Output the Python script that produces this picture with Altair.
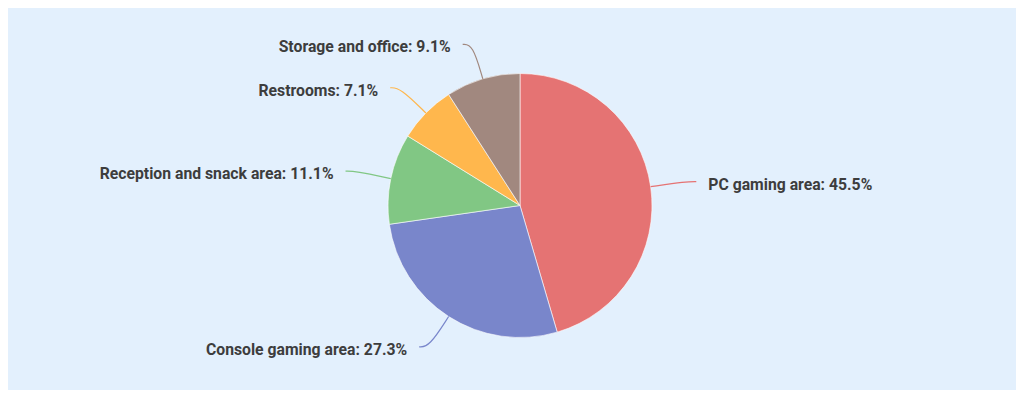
import altair as alt
import pandas as pd

categories = ["PC gaming area", "Console gaming area", "Reception and snack area", "Restrooms", "Storage and office"]
values = [45.5, 27.3, 11.1, 7.1, 9.1]
colors = ["#E57373", "#7986CB", "#81C784", "#FFB74D", "#A1887F"]

df = pd.DataFrame({"category": categories, "value": values, "idx": list(range(len(categories)))})

W, H = 1008, 382
CX, CY, R, R2 = 512, 197.5, 132, 168

color = alt.Color("category:N", scale=alt.Scale(domain=categories, range=colors), legend=None)
xs = alt.X("px:Q", scale=alt.Scale(domain=[0, W], nice=False, zero=False), axis=None)
ys = alt.Y("py:Q", scale=alt.Scale(domain=[0, H], nice=False, zero=False, reverse=True), axis=None)

base = alt.Chart(df)

pie = base.mark_arc(radius=R, stroke="#ffffff", strokeWidth=0.6).encode(
    theta=alt.Theta("value:Q", stack=True),
    order=alt.Order("idx:Q"),
    color=color,
    x=alt.value(CX),
    y=alt.value(CY),
)

geo = base.transform_joinaggregate(total="sum(value)").transform_window(
    cum="sum(value)", sort=[alt.SortField("idx")]
).transform_calculate(
    mid="2*PI*(datum.cum - datum.value/2)/datum.total",
).transform_calculate(
    s="sin(datum.mid)", c="cos(datum.mid)"
)

lines = geo.transform_calculate(pts="[0,1,2]").transform_flatten(["pts"]).transform_calculate(
    rr=f"datum.pts==0 ? {R} : {R2}",
).transform_calculate(
    px=f"{CX} + datum.rr*datum.s + (datum.pts==2 ? (datum.s>0 ? 10 : -10) : 0)",
    py=f"{CY} - datum.rr*datum.c",
).mark_line(interpolate="basis", strokeWidth=1.2).encode(
    x=xs, y=ys, color=color, detail="category:N", order="pts:Q"
)

labels = geo.transform_calculate(
    px=f"{CX} + {R2}*datum.s + (datum.s>0 ? 22 : -22)",
    py=f"{CY} - {R2}*datum.c",
    label="datum.category + ': ' + format(datum.value, '.1f') + '%'",
)

txt_style = dict(font="Roboto", fontSize=15.75, fontWeight="bold", color="#3d3d3d", baseline="middle", dy=3)
right_labels = labels.transform_filter("datum.s > 0").mark_text(align="left", **txt_style).encode(
    x=xs, y=ys, text="label:N"
)
left_labels = labels.transform_filter("datum.s <= 0").mark_text(align="right", **txt_style).encode(
    x=xs, y=ys, text="label:N"
)

chart = alt.layer(pie, lines, right_labels, left_labels).properties(
    width=W, height=H, padding=0, autosize=alt.AutoSizeParams(type="none"),
    background="#E3F0FD",
).configure_view(stroke=None)

chart.save("out.html", embed_options={"renderer": "svg", "actions": False})
